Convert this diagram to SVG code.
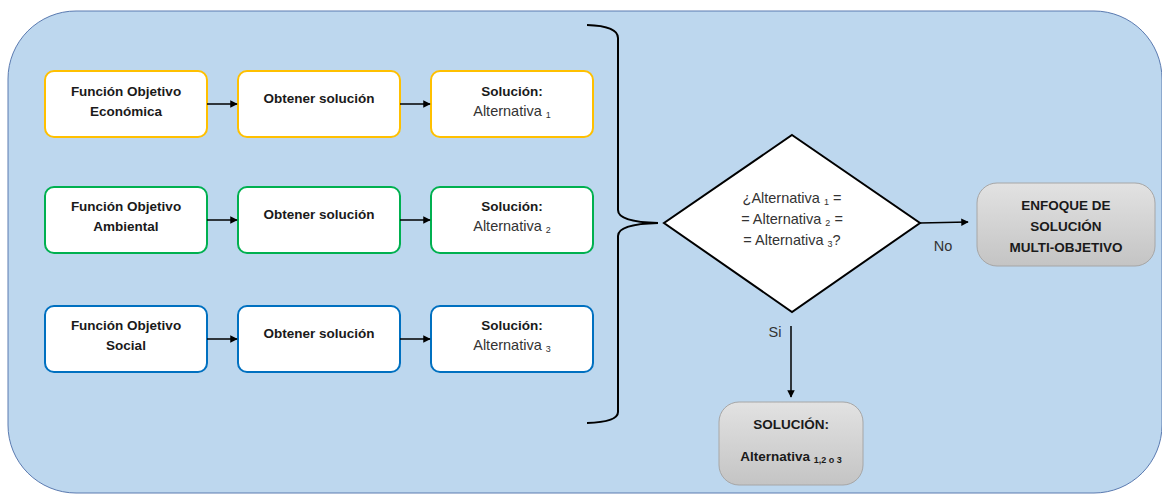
<svg xmlns="http://www.w3.org/2000/svg" width="1162" height="495" viewBox="0 0 1162 495">
  <style>
    .b { font-family: "Liberation Sans", Arial, sans-serif; font-size: 13.5px; font-weight: bold; fill: #1a1a1a; text-anchor: middle; }
    .r { font-family: "Liberation Sans", Arial, sans-serif; font-size: 14.5px; fill: #333333; text-anchor: middle; }
    .sub { font-size: 9px; }
    .box { fill: #ffffff; stroke-width: 2; }
    .yel { stroke: #ffc000; }
    .grn { stroke: #00b050; }
    .blu { stroke: #0070c0; }
    .gray { fill: url(#grayFill); stroke: #a6a6a6; stroke-width: 1; }
    .ln { stroke: #000000; stroke-width: 1.5; fill: none; }
  </style>
  <defs>
    <marker id="arr" viewBox="0 0 10 10" refX="9" refY="5" markerWidth="5" markerHeight="5" orient="auto" markerUnits="strokeWidth">
      <path d="M0,0 L10,5 L0,10 z" fill="#000000"/>
    </marker>
    <linearGradient id="grayFill" x1="0" y1="0" x2="0" y2="1">
      <stop offset="0" stop-color="#e2e2e2"/>
      <stop offset="1" stop-color="#c4c4c4"/>
    </linearGradient>
  </defs>

  <!-- background panel -->
  <rect x="8" y="11" width="1154" height="482" rx="68" ry="68" fill="#bdd7ee" stroke="#5a7ab0" stroke-width="1"/>

  <!-- row 1: economic -->
  <g id="fo-economica">
    <rect class="box yel" x="45" y="71" width="162" height="66" rx="9"/>
    <text class="b" x="126" y="96">Función Objetivo</text>
    <text class="b" x="126" y="116">Económica</text>
  </g>
  <g id="obtener-1">
    <rect class="box yel" x="238" y="71" width="162" height="66" rx="9"/>
    <text class="b" x="319" y="103">Obtener solución</text>
  </g>
  <g id="solucion-1">
    <rect class="box yel" x="431" y="71" width="162" height="66" rx="9"/>
    <text class="b" x="512" y="96">Solución:</text>
    <text class="r" x="512" y="116">Alternativa <tspan class="sub" dy="2">1</tspan></text>
  </g>

  <!-- row 2: environmental -->
  <g id="fo-ambiental">
    <rect class="box grn" x="45" y="187" width="162" height="66" rx="9"/>
    <text class="b" x="126" y="211">Función Objetivo</text>
    <text class="b" x="126" y="231">Ambiental</text>
  </g>
  <g id="obtener-2">
    <rect class="box grn" x="238" y="187" width="162" height="66" rx="9"/>
    <text class="b" x="319" y="219">Obtener solución</text>
  </g>
  <g id="solucion-2">
    <rect class="box grn" x="431" y="187" width="162" height="66" rx="9"/>
    <text class="b" x="512" y="211">Solución:</text>
    <text class="r" x="512" y="231">Alternativa <tspan class="sub" dy="2">2</tspan></text>
  </g>

  <!-- row 3: social -->
  <g id="fo-social">
    <rect class="box blu" x="45" y="306" width="162" height="66" rx="9"/>
    <text class="b" x="126" y="330">Función Objetivo</text>
    <text class="b" x="126" y="350">Social</text>
  </g>
  <g id="obtener-3">
    <rect class="box blu" x="238" y="306" width="162" height="66" rx="9"/>
    <text class="b" x="319" y="338">Obtener solución</text>
  </g>
  <g id="solucion-3">
    <rect class="box blu" x="431" y="306" width="162" height="66" rx="9"/>
    <text class="b" x="512" y="330">Solución:</text>
    <text class="r" x="512" y="350">Alternativa <tspan class="sub" dy="2">3</tspan></text>
  </g>

  <!-- decision -->
  <g id="decision">
    <polygon points="792,135 920,223 792,312 664,223" fill="#ffffff" stroke="#000000" stroke-width="2"/>
    <text class="r" x="792" y="203">¿Alternativa <tspan class="sub" dy="2">1</tspan><tspan dy="-2"> =</tspan></text>
    <text class="r" x="792" y="224">= Alternativa <tspan class="sub" dy="2">2</tspan><tspan dy="-2"> =</tspan></text>
    <text class="r" x="792" y="245">= Alternativa <tspan class="sub" dy="2">3</tspan><tspan dy="-2">?</tspan></text>
  </g>

  <!-- multi-objective approach -->
  <g id="enfoque">
    <rect class="gray" x="977" y="183" width="178" height="83" rx="20"/>
    <text class="b" x="1066" y="210">ENFOQUE DE</text>
    <text class="b" x="1066" y="231">SOLUCIÓN</text>
    <text class="b" x="1066" y="252">MULTI-OBJETIVO</text>
  </g>

  <!-- final solution -->
  <g id="solucion-final">
    <rect class="gray" x="719" y="402" width="144" height="83" rx="20"/>
    <text class="b" x="791" y="429">SOLUCIÓN:</text>
    <text class="b" x="791" y="461">Alternativa <tspan class="sub" dy="2">1,2 o 3</tspan></text>
  </g>

  <!-- connectors -->
  <g id="connectors">
    <line class="ln" x1="207" y1="104" x2="237" y2="104" marker-end="url(#arr)"/>
    <line class="ln" x1="400" y1="104" x2="430" y2="104" marker-end="url(#arr)"/>
    <line class="ln" x1="207" y1="220" x2="237" y2="220" marker-end="url(#arr)"/>
    <line class="ln" x1="400" y1="220" x2="430" y2="220" marker-end="url(#arr)"/>
    <line class="ln" x1="207" y1="339" x2="237" y2="339" marker-end="url(#arr)"/>
    <line class="ln" x1="400" y1="339" x2="430" y2="339" marker-end="url(#arr)"/>
    <!-- brace grouping the three results -->
    <path d="M587,25 Q618,26 618,38 L618,210 Q618,222 658,223 Q618,224 618,236 L618,412 Q618,422 587,423" fill="none" stroke="#000000" stroke-width="2"/>
    <line class="ln" x1="920" y1="223" x2="968" y2="222" marker-end="url(#arr)"/>
    <line class="ln" x1="791" y1="326" x2="791" y2="397" marker-end="url(#arr)"/>
    <text class="r" x="943" y="251">No</text>
    <text class="r" x="775" y="337">Si</text>
  </g>
</svg>
